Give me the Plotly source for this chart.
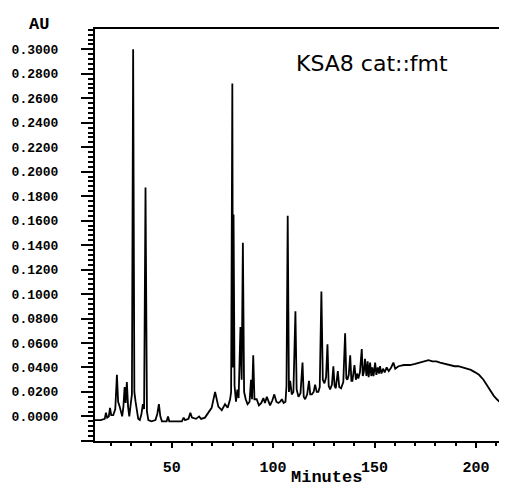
import plotly.graph_objects as go

# Retention time (minutes) and absorbance (AU)
minutes = [12.2, 15.0, 17.0, 17.6, 18.2, 19.0, 19.6, 20.2, 21.2, 22.2, 23.0, 23.6, 24.2, 24.9, 25.6,
           26.2, 26.8, 27.3, 27.9, 28.5, 29.1, 29.8, 30.4, 31.0, 31.6, 32.2, 32.8, 33.5, 34.3, 35.1,
           35.8, 36.4, 37.1, 37.8, 38.5, 40.0, 42.0, 42.9, 43.7, 44.4, 45.2, 47.5, 48.2, 48.8, 52.0,
           55.0, 55.9, 56.6, 58.3, 59.2, 60.0, 62.0, 63.5, 64.5, 66.4, 68.1, 69.7, 71.4, 73.0, 74.7,
           76.3, 77.6, 78.8, 79.3, 79.9, 80.2, 80.5, 81.0, 81.7, 82.4, 83.0, 83.9, 84.5, 85.1, 85.7,
           86.5, 87.4, 88.4, 89.1, 89.6, 90.2, 90.8, 91.9, 93.0, 94.2, 95.2, 96.0, 96.9, 97.7, 98.5,
           99.6, 100.6, 101.6, 102.6, 103.5, 104.3, 105.2, 106.1, 106.6, 107.2, 107.8, 108.4, 109.2, 110.0, 111.0,
           111.6, 112.5, 113.5, 114.5, 115.1, 115.8, 116.8, 117.7, 118.3, 119.1, 120.0, 120.7, 121.5, 122.3, 123.0,
           123.8, 124.5, 125.3, 126.1, 126.8, 127.4, 128.1, 129.0, 129.7, 130.3, 130.9, 131.9, 132.6, 133.5, 134.6,
           135.5, 136.1, 136.6, 137.3, 138.0, 138.6, 139.1, 140.1, 140.8, 141.4, 142.0, 142.8, 143.7, 144.2, 144.7,
           145.3, 146.0, 146.6, 147.1, 147.8, 148.4, 148.9, 149.5, 150.3, 150.9, 151.6, 152.2, 152.7, 153.4, 154.2,
           155.0, 156.0, 157.0, 158.2, 159.3, 160.2, 161.8, 164.5, 167.5, 170.0, 172.5, 175.0, 176.6, 178.5, 180.5,
           182.3, 185.0, 187.2, 189.5, 191.3, 193.5, 195.5, 197.5, 199.6, 201.5, 203.7, 205.5, 207.0, 208.7, 210.3,
           212.3, 214.4, 215.6]

absorbance = [-0.003, -0.003, -0.002, 0.003, -0.001, 0.000, 0.007, 0.001, 0.001, 0.006, 0.034, 0.012, 0.009, 0.004, 0.000,
              0.008, 0.024, 0.011, 0.028, 0.008, 0.000, 0.010, 0.018, 0.300, 0.020, 0.012, 0.004, -0.002, -0.003, 0.002,
              0.010, 0.006, 0.187, 0.004, -0.003, -0.004, -0.003, 0.002, 0.010, 0.000, -0.004, -0.004, 0.000, -0.004, -0.004,
              -0.004, -0.001, -0.003, -0.002, 0.003, -0.001, -0.002, 0.000, -0.002, -0.001, 0.003, 0.007, 0.020, 0.008, 0.005,
              0.010, 0.007, 0.014, 0.020, 0.272, 0.040, 0.165, 0.025, 0.012, 0.022, 0.015, 0.073, 0.030, 0.142, 0.020,
              0.014, 0.010, 0.012, 0.030, 0.014, 0.050, 0.014, 0.014, 0.009, 0.011, 0.015, 0.011, 0.016, 0.012, 0.009,
              0.013, 0.018, 0.012, 0.011, 0.012, 0.014, 0.011, 0.012, 0.025, 0.164, 0.020, 0.029, 0.018, 0.020, 0.086,
              0.022, 0.016, 0.019, 0.044, 0.016, 0.014, 0.018, 0.029, 0.018, 0.018, 0.020, 0.026, 0.020, 0.020, 0.024,
              0.102, 0.030, 0.027, 0.032, 0.059, 0.025, 0.022, 0.026, 0.041, 0.025, 0.023, 0.037, 0.024, 0.023, 0.028,
              0.068, 0.031, 0.030, 0.034, 0.050, 0.029, 0.029, 0.042, 0.030, 0.035, 0.031, 0.036, 0.055, 0.033, 0.036,
              0.047, 0.033, 0.045, 0.032, 0.044, 0.033, 0.040, 0.033, 0.044, 0.034, 0.040, 0.035, 0.041, 0.035, 0.039,
              0.036, 0.040, 0.037, 0.040, 0.044, 0.039, 0.041, 0.042, 0.042, 0.043, 0.044, 0.045, 0.046, 0.045, 0.045,
              0.044, 0.043, 0.042, 0.041, 0.041, 0.040, 0.039, 0.038, 0.036, 0.034, 0.030, 0.025, 0.021, 0.017, 0.014,
              0.011, 0.009, 0.008]

y_tick_values = [-0.02, 0.0, 0.02, 0.04, 0.06, 0.08, 0.10, 0.12, 0.14, 0.16, 0.18, 0.20, 0.22, 0.24, 0.26, 0.28, 0.30]
y_tick_labels = ["", "0.0000", "0.0200", "0.0400", "0.0600", "0.0800", "0.1000", "0.1200", "0.1400",
                 "0.1600", "0.1800", "0.2000", "0.2200", "0.2400", "0.2600", "0.2800", "0.3000"]
x_tick_values = [50, 100, 150, 200]
x_tick_labels = ["50", "100", "150", "200"]

mono = "Liberation Mono"

fig = go.Figure()
fig.add_trace(go.Scatter(x=minutes, y=absorbance, mode="lines",
                         line=dict(color="black", width=1.8), showlegend=False,
                         hoverinfo="skip"))

# page body has an 8px margin: compensate so the plot area lands at 95..507 x 29..441
fig.update_layout(
    width=499, height=487,
    margin=dict(l=87, r=0, t=21, b=54, autoexpand=False),
    paper_bgcolor="white", plot_bgcolor="white",
    xaxis=dict(range=[12.2, 215.3], showgrid=False, zeroline=False,
               showline=True, linecolor="black", linewidth=2, mirror=True,
               ticks="outside", ticklen=5, tickwidth=2, tickcolor="black",
               tickvals=x_tick_values, ticktext=x_tick_labels, ticklabelstandoff=6,
               tickfont=dict(family=mono, size=15, color="black", weight="bold"),
               minor=dict(dtick=10, tick0=0, ticks="outside", ticklen=3, tickwidth=1.5, tickcolor="black")),
    yaxis=dict(range=[-0.0201, 0.3166], showgrid=False, zeroline=False,
               showline=True, linecolor="black", linewidth=2, mirror=False,
               ticks="outside", ticklen=12, tickwidth=2, tickcolor="black",
               tickvals=y_tick_values, ticktext=y_tick_labels, ticklabelstandoff=20,
               tickfont=dict(family=mono, size=13, color="black", weight="bold"),
               minor=dict(dtick=0.004, tick0=0, ticks="outside", ticklen=5, tickwidth=1.5, tickcolor="black")),
    annotations=[
        dict(text="KSA8 cat::fmt", xref="paper", yref="paper", x=0.673, y=0.917,
             xanchor="center", yanchor="middle", showarrow=False,
             font=dict(family="DejaVu Sans", size=22, color="black")),
        dict(text="AU", xref="paper", yref="paper", x=-0.136, y=1.011,
             xanchor="center", yanchor="middle", showarrow=False,
             font=dict(family=mono, size=17, color="black", weight="bold")),
        dict(text="Minutes", xref="paper", yref="paper", x=0.5624, y=-0.089,
             xanchor="center", yanchor="middle", showarrow=False,
             font=dict(family=mono, size=17, color="black", weight="bold")),
    ],
)

fig.write_html("out.html")
